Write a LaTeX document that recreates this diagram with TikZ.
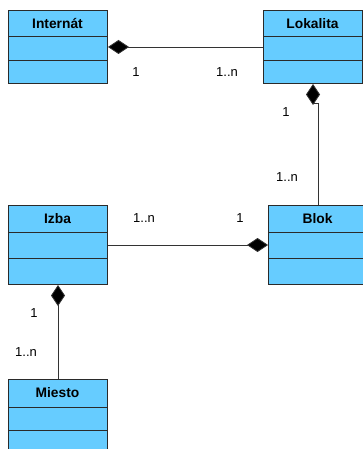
\documentclass[tikz,border=0pt]{standalone}
\usepackage{fontspec}
\setmainfont{Liberation Sans}
\usetikzlibrary{arrows.meta}
\definecolor{clsfill}{HTML}{66CCFF}
\definecolor{clsline}{HTML}{2A2A2A}
\tikzset{
  cls/.style={draw=clsline, line width=1pt, fill=clsfill, anchor=north west, inner sep=0pt},
  clstitle/.style={font=\fontsize{13.8}{14}\selectfont\bfseries, anchor=center},
  mult/.style={font=\fontsize{13}{14}\selectfont, anchor=center, inner sep=0pt},
  comp/.style={draw=black!80, line width=0.8pt, {Diamond[length=21pt,width=14pt,fill=black]}-},
}
\newcommand{\umlclass}[7]{% name, text, x, ytop, ybottom, sep1, sep2
  \node[cls, minimum width=99pt, minimum height=#5pt-#4pt] (#1) at (#3pt,-#4pt) {};
  \draw[clsline, line width=1pt] (#3pt,-#6pt) -- ++(99pt,0);
  \draw[clsline, line width=1pt] (#3pt,-#7pt) -- ++(99pt,0);
  \node[clstitle] (#1-t) at (#3pt+49.5pt,-#4pt/2-#6pt/2) {#2};
}
\begin{document}
\begin{tikzpicture}[x=1pt,y=-1pt]
\path[use as bounding box] (0,0) rectangle (363,449);
\clip (0,0) rectangle (363,449);
\fill[white] (0,0) rectangle (363,449);
\umlclass{internat}{Internát}{8}{10}{83}{37}{61}
\umlclass{lokalita}{Lokalita}{263}{10}{83}{37}{61}
\umlclass{izba}{Izba}{8}{205}{284}{232}{258}
\umlclass{blok}{Blok}{268}{205}{284}{232}{258}
\umlclass{miesto}{Miesto}{8}{379}{455}{407}{430}
% connectors
\draw[comp] (internat.east) -- (lokalita.west);
\coordinate (jog) at (318,103);
\draw[comp] (lokalita.south) -- (lokalita.south |- jog) -- (jog) -- (jog |- blok.north);
\draw[comp] (blok.west) -- (izba.east);
\draw[comp] (izba.south) -- (miesto.north);
% multiplicities
\node[mult] (m1) at (136,72) {1};
\node[mult] (m2) at (227,72) {1..n};
\node[mult] (m3) at (286,112) {1};
\node[mult] (m4) at (287,177) {1..n};
\node[mult] (m5) at (144,218) {1..n};
\node[mult] (m6) at (240,218) {1};
\node[mult] (m7) at (34,313) {1};
\node[mult] (m8) at (26,352) {1..n};
\end{tikzpicture}
\end{document}
